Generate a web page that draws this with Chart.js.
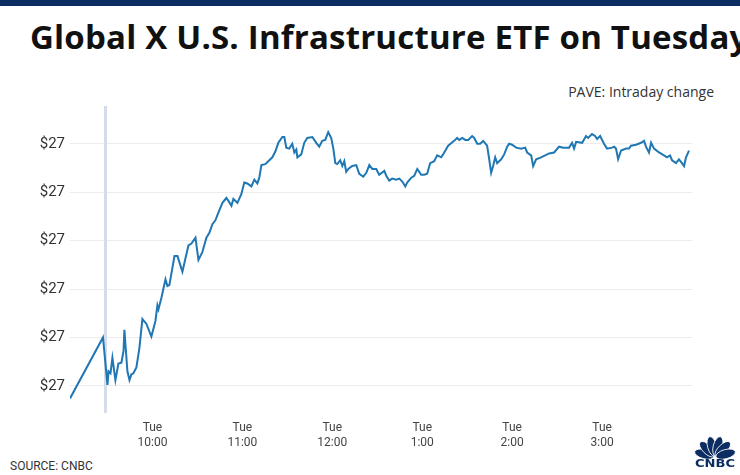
<!DOCTYPE html>
<html>
<head>
<meta charset="utf-8">
<script src="https://cdn.jsdelivr.net/npm/chart.js@4.4.1/dist/chart.umd.min.js"></script>
<style>
  html, body { margin: 0; padding: 0; background: #fff; }
  body { width: 740px; height: 475px; position: relative; overflow: hidden; font-family: "Roboto", "Liberation Sans", sans-serif; }
  #topbar { position: absolute; left: 0; top: 0; width: 740px; height: 6px; background: #0c2d62; }
  #title { position: absolute; left: 30px; top: 17px; font-family: "Open Sans", sans-serif; font-size: 33px; line-height: 40px; font-weight: 700; color: #111; white-space: nowrap; letter-spacing: 0.2px; }
  #subtitle { position: absolute; right: 26px; top: 82px; font-family: "Open Sans", sans-serif; font-size: 14px; color: #333; }
  #source { position: absolute; left: 10px; top: 459px; font-size: 12px; color: #333; }
  #logo { position: absolute; left: 688px; top: 430px; }
  #chart-wrap { position: absolute; left: 0; top: 0; width: 740px; height: 475px; }
</style>
</head>
<body>
<div id="topbar"></div>
<div id="title">Global X U.S. Infrastructure ETF on Tuesday</div>
<div id="subtitle">PAVE: Intraday change</div>
<div id="source">SOURCE: CNBC</div>
<div id="chart-wrap"><canvas id="chart" width="740" height="475"></canvas></div>
<svg id="logo" width="52" height="42" viewBox="0 0 52 42">
  <g fill="#0c2d62" stroke="#fff" stroke-width="0.8">
    <ellipse cx="27" cy="16" rx="4.6" ry="10" transform="rotate(-75 27 27)"/>
    <ellipse cx="27" cy="16" rx="4.6" ry="10" transform="rotate(-45 27 27)"/>
    <ellipse cx="27" cy="16" rx="4.6" ry="10" transform="rotate(-15 27 27)"/>
    <ellipse cx="27" cy="16" rx="4.6" ry="10" transform="rotate(15 27 27)"/>
    <ellipse cx="27" cy="16" rx="4.6" ry="10" transform="rotate(45 27 27)"/>
    <ellipse cx="27" cy="16" rx="4.6" ry="10" transform="rotate(75 27 27)"/>
  </g>
  <text x="27" y="37" text-anchor="middle" font-family="DejaVu Sans, sans-serif" font-weight="700" font-size="11" textLength="40" lengthAdjust="spacingAndGlyphs" fill="#0c2d62">CNBC</text>
</svg>

<script>
// minutes since midnight (9:30 open = 570)
const times = [
  545, 567, 570, 570.7, 572, 573.3, 575.3, 577.3, 579.3, 580.7, 581.3, 583.3, 584.7, 586, 587.3, 589.3,
  591.3, 593.3, 596, 599.3, 602, 603.3, 604, 606, 608.7, 610, 611.3, 614.7, 616.7, 620, 624, 626,
  628.7, 630.7, 633.3, 636, 638, 640, 642, 644, 646.7, 649.3, 650.7, 652.7, 654, 656.7, 659.3, 661.3,
  663.3, 666, 668, 670, 671.3, 672.7, 675.3, 677.3, 680, 682, 684, 686.7, 688, 689.3, 691.3, 693.3,
  694.7, 696, 696.7, 699.3, 701.3, 703.3, 706.7, 709.3, 711.3, 713.3, 715.3, 717.3, 719.3, 720.7, 722, 723.3,
  725.3, 726.7, 728, 729.3, 730.7, 733.3, 736, 738, 740.7, 742.7, 744.7, 746.7, 749.3, 751.3, 754.7, 756,
  758, 760, 762.7, 764.7, 766.7, 768.7, 770, 772.7, 774.7, 776.7, 779.3, 781.3, 783.3, 785.3, 788, 790,
  792.7, 794.7, 797.3, 801.3, 803.3, 804.7, 806.7, 808.7, 810.7, 813.3, 814.7, 816.7, 818.7, 820.7, 823.3, 824.7,
  826, 827.3, 828.7, 830, 832.7, 834.7, 836.7, 838, 840, 842.7, 846, 848.7, 850, 852.7, 854, 856,
  859.3, 862, 864.7, 868, 871.3, 874, 878, 880, 881.3, 882.7, 886.7, 889.3, 890.7, 893.3, 895.3, 896.7,
  898.7, 901.3, 903.3, 906.7, 908, 909.3, 910.7, 912.7, 916, 918, 919.3, 922.7, 926, 928, 929.3, 931.3,
  932.7, 934.7, 938, 941.3, 943.3, 945.3, 946.7, 949.3, 951.3, 953.3, 954.7, 956, 958
];

const prices = [
  26.887, 26.950, 26.901, 26.915, 26.913, 26.929, 26.906, 26.923, 26.924, 26.936, 26.958, 26.915, 26.906, 26.912, 26.913, 26.919,
  26.939, 26.969, 26.964, 26.951, 26.967, 26.983, 26.979, 26.991, 27.010, 27.003, 27.004, 27.034, 27.034, 27.018, 27.045, 27.047,
  27.053, 27.030, 27.038, 27.053, 27.058, 27.067, 27.071, 27.079, 27.089, 27.094, 27.091, 27.086, 27.093, 27.089, 27.098, 27.110,
  27.109, 27.106, 27.113, 27.109, 27.115, 27.128, 27.129, 27.132, 27.136, 27.142, 27.151, 27.157, 27.157, 27.146, 27.145, 27.150,
  27.141, 27.144, 27.136, 27.139, 27.151, 27.156, 27.157, 27.151, 27.147, 27.153, 27.154, 27.162, 27.156, 27.145, 27.130, 27.129,
  27.133, 27.127, 27.132, 27.121, 27.124, 27.127, 27.128, 27.119, 27.116, 27.120, 27.128, 27.124, 27.124, 27.118, 27.122, 27.117,
  27.112, 27.114, 27.113, 27.114, 27.111, 27.106, 27.110, 27.115, 27.117, 27.124, 27.118, 27.118, 27.119, 27.130, 27.132, 27.138,
  27.136, 27.141, 27.148, 27.153, 27.156, 27.154, 27.156, 27.154, 27.154, 27.158, 27.156, 27.150, 27.150, 27.153, 27.148, 27.134,
  27.120, 27.127, 27.136, 27.130, 27.134, 27.139, 27.147, 27.150, 27.149, 27.146, 27.145, 27.146, 27.141, 27.138, 27.127, 27.134,
  27.136, 27.138, 27.140, 27.141, 27.147, 27.146, 27.146, 27.151, 27.145, 27.152, 27.151, 27.158, 27.156, 27.160, 27.158, 27.155,
  27.158, 27.150, 27.145, 27.146, 27.147, 27.145, 27.134, 27.143, 27.145, 27.145, 27.148, 27.149, 27.151, 27.153, 27.147, 27.141,
  27.151, 27.145, 27.141, 27.138, 27.136, 27.138, 27.133, 27.130, 27.134, 27.130, 27.127, 27.136, 27.143
];

const yTickValues = [26.90, 26.95, 27.00, 27.05, 27.10, 27.15];
const xTickValues = [600, 660, 720, 780, 840, 900];
const xTickLabels = ["10:00", "11:00", "12:00", "1:00", "2:00", "3:00"];
const marketOpen = 570;

// light vertical bar at the open
const openMarker = {
  id: "openMarker",
  beforeDatasetsDraw(chart) {
    const { ctx, chartArea, scales } = chart;
    const x = scales.x.getPixelForValue(marketOpen) - 2;
    ctx.save();
    ctx.strokeStyle = "#d3dce8";
    ctx.lineWidth = 3;
    ctx.beginPath();
    ctx.moveTo(x, chartArea.top);
    ctx.lineTo(x, chartArea.bottom);
    ctx.stroke();
    ctx.restore();
  }
};

const ctx = document.getElementById("chart").getContext("2d");

new Chart(ctx, {
  type: "line",
  data: {
    datasets: [{
      data: times.map((t, i) => ({ x: t, y: prices[i] })),
      borderColor: "#1f77b4",
      borderWidth: 2,
      pointRadius: 0,
      tension: 0,
      fill: false
    }]
  },
  options: {
    responsive: false,
    animation: false,
    layout: { padding: { left: 0, right: 48, top: 106, bottom: 0 } },
    plugins: {
      legend: { display: false },
      tooltip: { enabled: false }
    },
    scales: {
      x: {
        type: "linear",
        min: 545,
        max: 960,
        afterBuildTicks: (scale) => { scale.ticks = xTickValues.map(v => ({ value: v })); },
        afterFit: (scale) => { scale.height = 62; },
        grid: { display: false, drawTicks: false },
        border: { display: false },
        ticks: {
          padding: 8,
          color: "#444",
          font: { family: "Roboto", size: 12 },
          maxRotation: 0,
          autoSkip: false,
          callback: (value) => ["Tue", xTickLabels[xTickValues.indexOf(value)]]
        }
      },
      y: {
        min: 26.872,
        max: 27.189,
        afterBuildTicks: (scale) => { scale.ticks = yTickValues.map(v => ({ value: v })); },
        afterFit: (scale) => { scale.width = 70; },
        grid: { color: "#ececec", lineWidth: 1, drawTicks: false },
        border: { display: false },
        ticks: {
          padding: 5,
          color: "#333",
          font: { family: "Roboto", size: 15 },
          callback: (value) => "$" + Math.round(value)
        }
      }
    }
  },
  plugins: [openMarker]
});
</script>
</body>
</html>
